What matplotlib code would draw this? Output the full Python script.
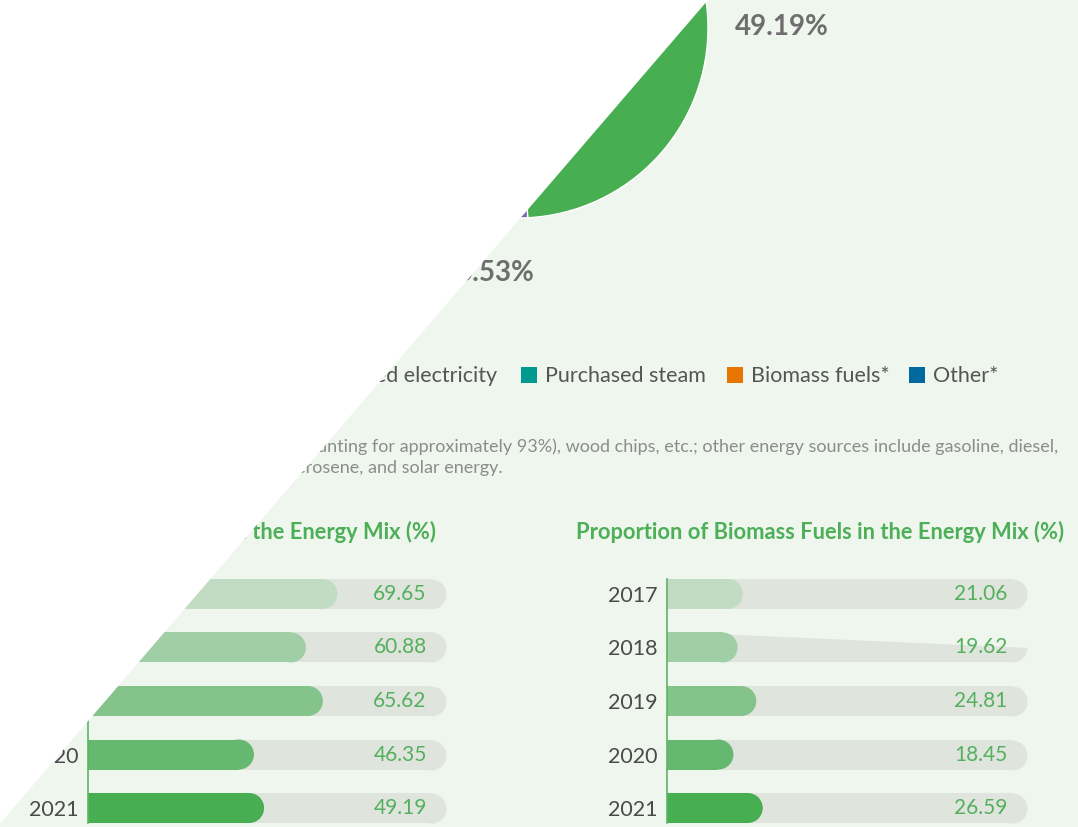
import numpy as np
import matplotlib.pyplot as plt
from matplotlib.patches import Polygon, Rectangle

W, H = 1078, 827
BG = '#EFF6EE'
TRACK = '#DFE4DD'
plt.rcParams['font.family'] = ['Lato', 'DejaVu Sans']

# energy mix 2021 (pie)
mix_labels = ['Purchased electricity', 'Self-generated electricity', 'Purchased steam', 'Biomass fuels*', 'Other*']
mix_values = [49.19, 5.53, 16.32, 26.59, 2.37]
mix_colors = ['#47AE52', '#7B68B0', '#00998F', '#E87500', '#00699F']

# yearly shares (bars)
years = ['2017', '2018', '2019', '2020', '2021']
elec_share = [69.65, 60.88, 65.62, 46.35, 49.19]
biomass_share = [21.06, 19.62, 24.81, 18.45, 26.59]
bar_colors = ['#C2DCC4', '#A1CFA5', '#84C48A', '#65B870', '#47AE52']

footnote = ["*Biomass fuels include bagasse (accounting for approximately 93%), wood chips, etc.; other energy sources include gasoline, diesel,",
            "natural gas, liquefied petroleum gas, kerosene, and solar energy."]


def fx(x):
    return x / W


def fy(y):
    return 1 - y / H


def fbox(x0, y0, x1, y1):
    return [x0 / W, 1 - y1 / H, (x1 - x0) / W, (y1 - y0) / H]


fig = plt.figure(figsize=(W / 100, H / 100), dpi=100, facecolor=BG)

# pie (centre at 518,28 px, radius 190 px)
cx, cy, R = 518, 28, 190
ax = fig.add_axes(fbox(cx - R, cy - R, cx + R, cy + R))
ax.pie(mix_values, colors=mix_colors, startangle=90, counterclock=False,
       wedgeprops=dict(edgecolor='white', linewidth=1))
ax.set_xlim(-1, 1)
ax.set_ylim(-1, 1)
ax.axis('off')
dist = [1.39, 1.30, 1.30, 1.30, 1.30]
nudge = [(0, -6), (8, 0), (0, 0), (0, 0), (0, 0)]  # px
start = 90
for v, d, (nx, ny) in zip(mix_values, dist, nudge):
    mid = np.radians(start - v * 3.6 / 2)
    start -= v * 3.6
    tx, ty = d * np.cos(mid) + nx / R, d * np.sin(mid) + ny / R
    if cy - ty * R < 15:
        continue  # label would sit above the page
    ax.text(tx, ty, f'{v:.2f}%', ha='center', va='center',
            fontsize=20, fontweight='bold', color='#6E6E6E')

# legend
leg_sq = [20, 250, 521, 727, 909]
for i, (lab, c) in enumerate(zip(mix_labels, mix_colors)):
    fig.patches.append(Rectangle((fx(leg_sq[i]), fy(383)), 16 / W, 16 / H,
                                 transform=fig.transFigure, facecolor=c, edgecolor='none'))
    if i == 1:
        fig.text(fx(497), fy(376), lab, ha='right', va='center', fontsize=15.5, color='#555555')
    else:
        fig.text(fx(leg_sq[i] + 24), fy(376), lab, ha='left', va='center', fontsize=15.5, color='#555555')

# footnote
fig.text(fx(1058), fy(447), footnote[0], ha='right', va='center', fontsize=13, color='#8C8C8C')
fig.text(fx(503), fy(468), footnote[1], ha='right', va='center', fontsize=13, color='#8C8C8C')


def bar_panel(x0, x1, values):
    ax = fig.add_axes(fbox(x0, 579, x1, 823))
    ax.set_facecolor('none')
    pos = np.arange(len(years))
    r = 15 / ((x1 - x0) / 100)
    ms = (30 * 0.72) ** 2
    vals = np.array(values)
    ax.barh(pos, 100 - r, height=30 / 53.5, color=TRACK, zorder=1)
    ax.scatter(np.full(len(pos), 100 - r), pos, s=ms, color=TRACK, linewidths=0, zorder=1, clip_on=False)
    ax.barh(pos, vals - r, height=30 / 53.5, color=bar_colors, zorder=2)
    ax.scatter(vals - r, pos, s=ms, color=bar_colors, linewidths=0, zorder=2, clip_on=False)
    for p, v in zip(pos, vals):
        ax.text(94.6, p, f'{v:.2f}', ha='right', va='center', fontsize=15, color='#55B05E', zorder=3)
    ax.set_xlim(0, 100)
    ax.set_ylim(4.28, -0.28)
    ax.set_xticks([])
    ax.set_yticks(pos, years)
    ax.tick_params(axis='y', length=0, pad=7, labelsize=15.5, labelcolor='#4A4A4A')
    for s in ['top', 'right', 'bottom']:
        ax.spines[s].set_visible(False)
    ax.spines['left'].set_color('#5DB564')
    ax.spines['left'].set_linewidth(1.2)
    return ax


bar_panel(88, 446, elec_share)
ax2 = bar_panel(667, 1027, biomass_share)
# skewed track edge on the 2018 row
ax2.add_patch(Polygon([(fx(700), fy(630)), (fx(1034), fy(630)), (fx(1034), fy(648.2)), (fx(700), fy(633.3))],
                      closed=True, transform=fig.transFigure, facecolor=BG, edgecolor='none',
                      zorder=1.5, clip_on=False))

fig.text(fx(436), fy(532), 'Proportion of Electricity in the Energy Mix (%)', ha='right', va='center',
         fontsize=15.75, fontweight='bold', color='#4DAF57')
fig.text(fx(819.5), fy(532), 'Proportion of Biomass Fuels in the Energy Mix (%)', ha='center', va='center',
         fontsize=15.75, fontweight='bold', color='#4DAF57')

# white cut over the upper-left corner
fig.add_artist(Polygon([(0, 1), (fx(708), 1), (fx(-3), fy(827))], closed=True,
                       transform=fig.transFigure, facecolor='white', edgecolor='none', zorder=10))

fig.savefig('out.png', dpi=100, facecolor=BG)
